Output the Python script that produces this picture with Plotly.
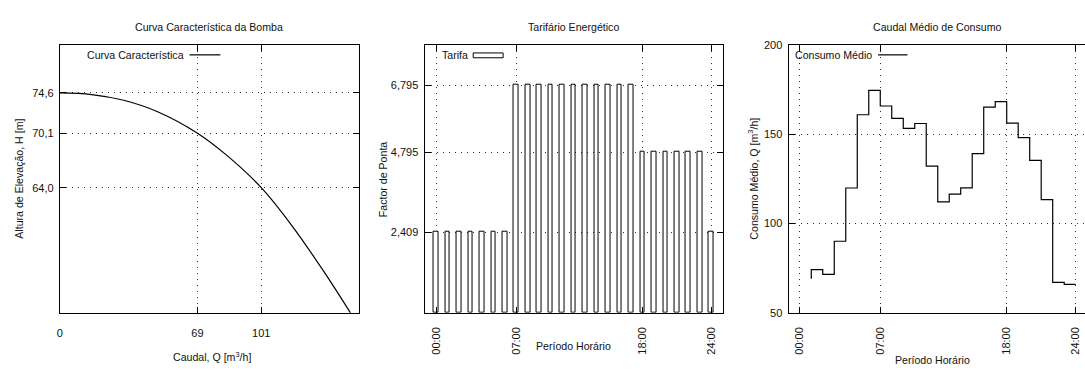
import plotly.graph_objects as go

W, H = 1085, 371

# ---------------- data ----------------
# Panel 1: pump characteristic curve
caudal_q = [0, 16, 32, 49, 69, 83, 101, 116.5, 133, 146.5]
altura_h = [74.6, 74.42, 73.78, 72.5, 70.1, 67.75, 64.0, 59.7, 54.4, 49.7]
p1_xticks = [0, 69, 101]
p1_xticklabels = ["0", "69", "101"]
p1_yticks = [64.0, 70.1, 74.6]
p1_yticklabels = ["64,0", "70,1", "74,6"]

# Panel 2: energy tariff per hour
horas_tarifa = list(range(0, 25))
tarifa = [2.409] * 7 + [6.795] * 11 + [4.795] * 6 + [2.409]
p2_yticks = [2.409, 4.795, 6.795]
p2_yticklabels = ["2,409", "4,795", "6,795"]

# Panel 3: average consumption (steps)
horas_consumo = list(range(1, 25))
consumo = [69.0, 74.1, 71.5, 90.0, 119.8, 160.8, 174.4, 165.7, 158.8, 153.2,
           155.9, 132.1, 112.0, 116.4, 119.9, 139.1, 165.1, 168.2, 156.1, 148.0,
           135.3, 113.3, 67.0, 65.9]
p3_yticks = [50, 100, 150, 200]
p3_yticklabels = ["50", "100", "150", "200"]

hour_ticks = [0, 7, 18, 24]
hour_labels = ["00:00", "07:00", "18:00", "24:00"]

FONT = "Liberation Sans, Arial, Helvetica, sans-serif"
TICKFONT = dict(family=FONT, size=11, color="#111")
GRID = "1px,5px"


def px(x):
    return x / W


def py(y):
    return 1 - y / H


fig = go.Figure()

fig.add_trace(go.Scatter(x=caudal_q, y=altura_h, mode="lines",
                         line=dict(color="black", width=1.2, shape="spline"),
                         xaxis="x", yaxis="y", showlegend=False))

fig.add_trace(go.Bar(x=horas_tarifa, y=tarifa, width=0.4,
                     marker=dict(color="white", line=dict(color="black", width=1)),
                     xaxis="x2", yaxis="y2", showlegend=False))

fig.add_trace(go.Scatter(x=horas_consumo, y=consumo, mode="lines",
                         line=dict(color="black", width=1.2, shape="vh"),
                         xaxis="x3", yaxis="y3", showlegend=False))

ydom = [1 - 317 / H, 1 - 40 / H]
common = dict(showline=True, linecolor="black", linewidth=1, mirror="ticks",
              ticks="inside", ticklen=6, tickcolor="black", tickwidth=1,
              showgrid=True, gridcolor="#333", griddash=GRID, gridwidth=1,
              zeroline=False, tickfont=TICKFONT, fixedrange=True)
p3y = dict(common)
p3y["mirror"] = False

fig.update_layout(
    width=W, height=H, margin=dict(l=0, r=0, t=0, b=0),
    paper_bgcolor="white", plot_bgcolor="white", bargap=0,
    xaxis=dict(domain=[px(57), px(357)], range=[0, 150], anchor="y",
               tickmode="array", tickvals=p1_xticks, ticktext=p1_xticklabels,
               ticklabelstandoff=10, **common),
    yaxis=dict(domain=ydom, range=[50, 80], anchor="x",
               tickmode="array", tickvals=p1_yticks, ticktext=p1_yticklabels,
               ticklabelstandoff=3, **common),
    xaxis2=dict(domain=[px(422.7), px(721.7)], range=[-1, 25], anchor="y2",
                tickmode="array", tickvals=hour_ticks, ticktext=hour_labels,
                tickangle=-90, ticklabelstandoff=9, **common),
    yaxis2=dict(domain=ydom, range=[0, 8], anchor="x2",
                tickmode="array", tickvals=p2_yticks, ticktext=p2_yticklabels,
                ticklabelstandoff=3, **common),
    xaxis3=dict(domain=[px(787.7), 1], range=[-0.98, 24.81], anchor="y3",
                tickmode="array", tickvals=hour_ticks, ticktext=hour_labels,
                tickangle=-90, ticklabelstandoff=9, **common),
    yaxis3=dict(domain=ydom, range=[50, 200], anchor="x3",
                tickmode="array", tickvals=p3_yticks, ticktext=p3_yticklabels,
                ticklabelstandoff=3, **p3y),
    # right-side mirrored ticks for panel 3 (frame edge lies outside the window)
    yaxis4=dict(domain=ydom, range=[50, 200], anchor="x3", overlaying="y3",
                side="right", showline=False, showgrid=False, zeroline=False,
                ticks="inside", ticklen=6, tickcolor="black", tickwidth=1,
                tickmode="array", tickvals=p3_yticks, showticklabels=False,
                fixedrange=True),
)

TXT = dict(family=FONT, size=10.6, color="#111")
annots = [
    # titles
    dict(text="Curva Característica da Bomba", x=207, y=22),
    dict(text="Tarifário Energético", x=572, y=22),
    dict(text="Caudal Médio de Consumo", x=936.5, y=22),
    # x axis titles
    dict(text="Caudal, Q [m<sup>3</sup>/h]", x=210, y=362),
    dict(text="Período Horário", x=572, y=351),
    dict(text="Período Horário", x=932, y=366),
    # y axis titles
    dict(text="Altura de Elevação, H [m]", x=16.5, y=178, textangle=-90),
    dict(text="Factor de Ponta", x=381, y=179, textangle=-90),
    dict(text="Consumo Médio, Q [m<sup>3</sup>/h]", x=751.5, y=178, textangle=-90),
]
ann_list = []
for a in annots:
    d = dict(xref="paper", yref="paper", showarrow=False, font=TXT,
             xanchor="center", yanchor="middle")
    d.update(a)
    d["x"] = px(a["x"])
    d["y"] = py(a["y"])
    ann_list.append(d)

# legend texts (right-aligned, gnuplot style)
for text, xr, yc in [("Curva Característica", 183.5, 50.5),
                     ("Tarifa", 468.5, 50.5),
                     ("Consumo Médio", 873.5, 50.5)]:
    ann_list.append(dict(xref="paper", yref="paper", showarrow=False, font=TXT,
                         text=text, x=px(xr), y=py(yc), xanchor="right",
                         yanchor="middle"))
fig.update_layout(annotations=ann_list)

# legend keys
shapes = [
    dict(type="line", xref="paper", yref="paper", x0=px(187), x1=px(218),
         y0=py(50.5), y1=py(50.5), line=dict(color="black", width=1.2)),
    dict(type="rect", xref="paper", yref="paper", x0=px(471.5), x1=px(501.5),
         y0=py(48.5), y1=py(53.5), line=dict(color="black", width=1),
         fillcolor="white"),
    dict(type="line", xref="paper", yref="paper", x0=px(877.5), x1=px(907),
         y0=py(50.5), y1=py(50.5), line=dict(color="black", width=1.2)),
]
fig.update_layout(shapes=shapes)

fig.write_html("out.html")
